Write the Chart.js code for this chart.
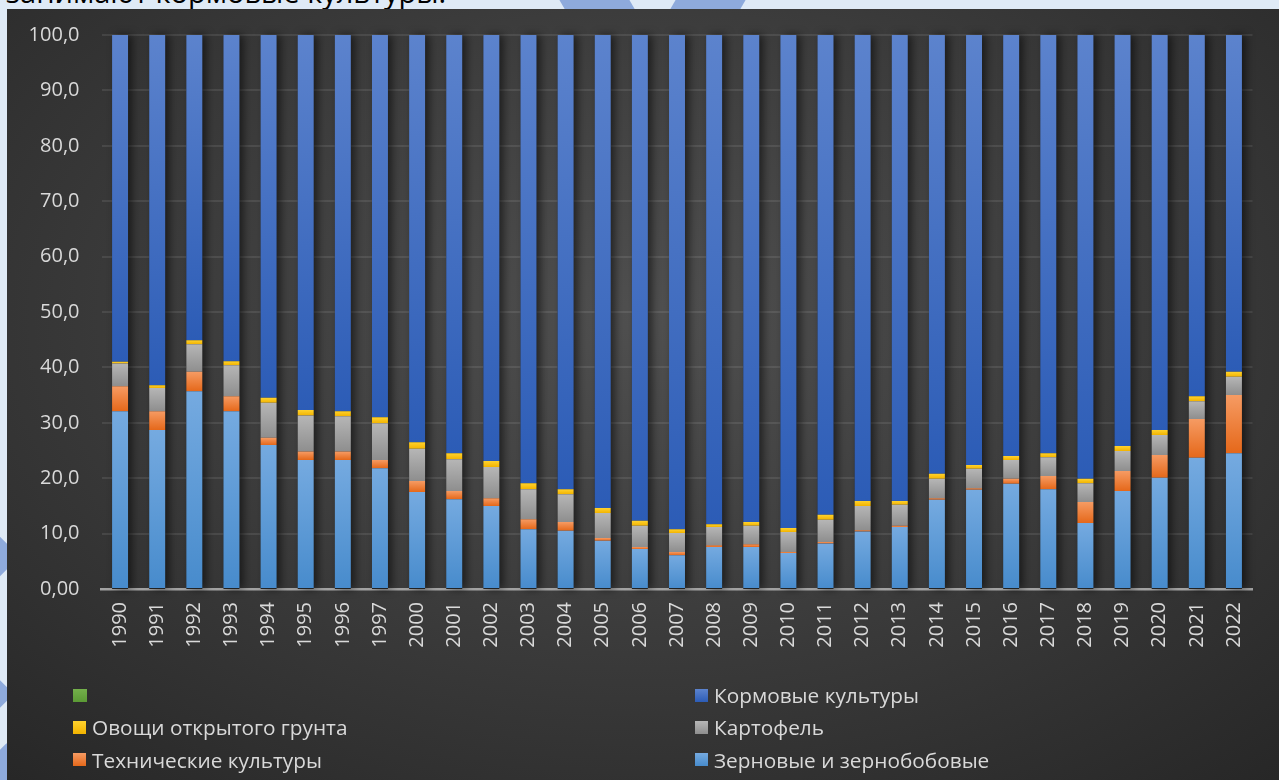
<!DOCTYPE html>
<html lang="ru">
<head>
<meta charset="utf-8">
<title>Структура посевных площадей</title>
<script src="https://cdn.jsdelivr.net/npm/chart.js@4.4.1/dist/chart.umd.min.js"></script>
<style>
  html, body { margin: 0; padding: 0; }
  body {
    width: 1279px; height: 780px; overflow: hidden; position: relative;
    background: #dfeaf6; font-family: "Open Sans", "Noto Sans", sans-serif;
  }
  .deco { position: absolute; background: #8eaadc; }
  #topText {
    position: absolute; left: 6px; top: -23px; font-size: 29px; line-height: 1;
    color: #000; white-space: nowrap;
  }
  #panel {
    position: absolute; left: 7px; top: 9px; width: 1272px; height: 771px;
    background: radial-gradient(ellipse 75% 80% at 50% 40%, #505050 0%, #3e3e3e 45%, #272727 100%);
  }
  #myChart { position: absolute; left: 0; top: 0; }
  #legend {
    position: absolute; left: 66px; top: 670px; width: 1200px;
    display: grid; grid-template-columns: 622px 400px; grid-auto-rows: 32.3px;
    color: #d9d9d9; font-size: 20.8px;
  }
  #legend .item { display: flex; align-items: center; white-space: nowrap; }
  #legend .box { width: 13px; height: 13px; margin-right: 6px; flex: none; }
</style>
</head>
<body>
  <div class="deco" style="left:545px;top:-60px;width:70px;height:70px;transform:skewX(30deg);"></div>
  <div class="deco" style="left:690px;top:-60px;width:70px;height:70px;transform:skewX(-30deg);"></div>
  <div class="deco" style="left:-20px;top:540px;width:30px;height:40px;transform:rotate(45deg);"></div>
  <div class="deco" style="left:-20px;top:680px;width:28px;height:28px;transform:rotate(45deg);"></div>
  <div class="deco" style="left:-12px;top:748px;width:30px;height:40px;transform:rotate(45deg);"></div>
  <div id="topText">занимают кормовые культуры.</div>
  <div id="panel">
    <canvas id="myChart" width="1272" height="771"></canvas>
    <div id="legend"></div>
  </div>

<script>
// years on the x axis (1998 and 1999 are absent in the source)
var years = ['1990','1991','1992','1993','1994','1995','1996','1997','2000','2001','2002','2003','2004','2005','2006','2007','2008','2009','2010','2011','2012','2013','2014','2015','2016','2017','2018','2019','2020','2021','2022'];

var yTickLabels = ['0,00','10,0','20,0','30,0','40,0','50,0','60,0','70,0','80,0','90,0','100,0'];

// shares, %
var zernovye   = [32.1,28.7,35.7,32.1,26.0,23.3,23.3,21.8,17.5,16.2,15.0,10.8,10.5,8.7,7.2,6.1,7.6,7.6,6.5,8.2,10.4,11.2,16.1,17.9,19.0,18.0,11.9,17.7,20.1,23.7,24.5];
var tehnich    = [4.5,3.4,3.5,2.7,1.3,1.5,1.5,1.5,2.0,1.5,1.4,1.8,1.6,0.5,0.4,0.6,0.3,0.5,0.2,0.3,0.2,0.2,0.3,0.3,0.9,2.4,3.8,3.6,4.1,7.0,10.5];
var kartofel   = [4.1,4.2,5.0,5.6,6.3,6.5,6.4,6.6,5.8,5.7,5.6,5.4,5.0,4.5,3.8,3.4,3.3,3.3,3.6,4.0,4.4,3.8,3.5,3.5,3.4,3.4,3.4,3.6,3.6,3.2,3.3];
var ovoshi     = [0.3,0.5,0.7,0.7,0.9,1.0,0.9,1.1,1.2,1.1,1.1,1.1,0.9,0.9,0.9,0.7,0.5,0.7,0.7,0.9,0.9,0.7,0.9,0.7,0.7,0.7,0.8,0.9,0.9,0.9,0.9];
var kormovye   = [59.0,63.2,55.1,58.9,65.5,67.7,67.9,69.0,73.5,75.5,76.9,80.9,82.0,85.4,87.7,89.2,88.3,87.9,89.0,86.6,84.1,84.1,79.2,77.6,76.0,75.5,80.1,74.2,71.3,65.2,60.8];
var unnamed    = [];

var seriesNames = ['Зерновые и зернобобовые','Технические культуры','Картофель','Овощи открытого грунта','Кормовые культуры',''];
var seriesData = [zernovye, tehnich, kartofel, ovoshi, kormovye, unnamed];
// [top colour, bottom colour] of each segment gradient
var seriesColors = [
  ['#75aae0','#478bcc'],
  ['#f69b63','#e5681a'],
  ['#b6b6b6','#8e8e8e'],
  ['#ffd22e','#f2b300'],
  ['#5c83cd','#2c5cb6'],
  ['#74b04b','#5b9a35']
];

function segmentFill(ctx) {
  var chart = ctx.chart;
  var col = seriesColors[ctx.datasetIndex];
  if (!chart.chartArea || ctx.dataIndex === undefined) return col[0];
  var base = 0;
  for (var d = 0; d < ctx.datasetIndex; d++) base += seriesData[d][ctx.dataIndex] || 0;
  var v = seriesData[ctx.datasetIndex][ctx.dataIndex] || 0;
  var y = chart.scales.y;
  var yTop = y.getPixelForValue(base + v), yBot = y.getPixelForValue(base);
  if (yBot - yTop < 1) return col[0];
  var g = chart.ctx.createLinearGradient(0, yTop, 0, yBot);
  g.addColorStop(0, col[0]);
  g.addColorStop(1, col[1]);
  return g;
}

// soft shadow to the right of each column, like the office chart
var barShadow = {
  id: 'barShadow',
  beforeDatasetsDraw: function(chart) {
    var meta = chart.getDatasetMeta(0);
    var c = chart.ctx;
    c.save();
    c.shadowColor = 'rgba(0,0,0,0.55)';
    c.shadowBlur = 9;
    c.shadowOffsetX = 4;
    c.fillStyle = '#222';
    meta.data.forEach(function(el, i) {
      var total = 0;
      for (var d = 0; d < seriesData.length; d++) total += seriesData[d][i] || 0;
      var top = chart.scales.y.getPixelForValue(total);
      var bot = chart.scales.y.getPixelForValue(0);
      c.fillRect(el.x - el.width / 2, top, el.width, bot - top);
    });
    c.restore();
  }
};

var datasets = [];
for (var k = 0; k < seriesNames.length; k++) {
  datasets.push({
    label: seriesNames[k],
    data: seriesData[k],
    backgroundColor: segmentFill,
    borderWidth: 0,
    barPercentage: 0.43,
    categoryPercentage: 1.0
  });
}

var config = {
  type: 'bar',
  data: { labels: years, datasets: datasets },
  plugins: [barShadow],
  options: {
    responsive: false,
    animation: false,
    layout: { padding: { left: 0, top: 26, right: 26.5, bottom: 0 } },
    plugins: {
      legend: { display: false },
      tooltip: { enabled: false }
    },
    scales: {
      x: {
        stacked: true,
        grid: { display: false, drawTicks: false },
        border: { display: true, color: '#a3a3a3', width: 2.5 },
        ticks: {
          autoSkip: false, maxRotation: 90, minRotation: 90, padding: 13,
          color: '#d9d9d9',
          font: { family: '"Open Sans", sans-serif', size: 20 }
        },
        afterFit: function(scale) { scale.height = 191; }
      },
      y: {
        stacked: true,
        min: 0, max: 100,
        grid: { color: 'rgba(255,255,255,0.09)', lineWidth: 2, drawTicks: false },
        border: { display: false },
        ticks: {
          stepSize: 10, padding: 22,
          color: '#d9d9d9',
          font: { family: '"Open Sans", sans-serif', size: 20 },
          callback: function(value, index) { return yTickLabels[index]; }
        },
        afterFit: function(scale) {
          scale.width = 94.5;
          scale.paddingTop = 0;
          scale.paddingBottom = 0;
        }
      }
    }
  }
};

var myChart = new Chart(document.getElementById('myChart'), config);

// legend: two columns, series in reverse order, filled row by row
var legend = document.getElementById('legend');
for (var j = seriesNames.length - 1; j >= 0; j--) {
  var item = document.createElement('div');
  item.className = 'item';
  var box = document.createElement('span');
  box.className = 'box';
  box.style.background = 'linear-gradient(' + seriesColors[j][0] + ',' + seriesColors[j][1] + ')';
  if (j === 5) box.style.width = '14px';
  var txt = document.createElement('span');
  txt.textContent = seriesNames[j];
  item.appendChild(box);
  item.appendChild(txt);
  legend.appendChild(item);
}
</script>
</body>
</html>
